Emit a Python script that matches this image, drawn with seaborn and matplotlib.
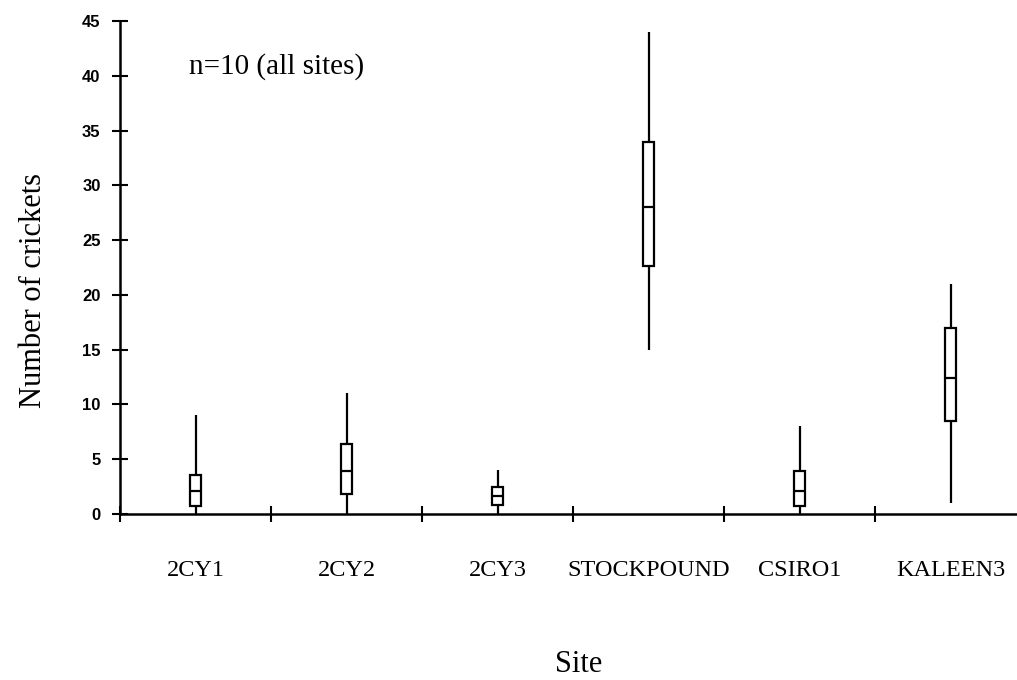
import numpy as np
import pandas as pd
import seaborn as sns
import matplotlib
matplotlib.use("Agg")
import matplotlib.pyplot as plt
from matplotlib.ticker import FixedLocator

# Five-number summaries of cricket counts per site (n=10 at every site)
sites = ["2CY1", "2CY2", "2CY3", "STOCKPOUND", "CSIRO1", "KALEEN3"]
minimum = [0, 0, 0, 15, 0, 1]
lower_quartile = [0.7, 1.8, 0.8, 22.6, 0.7, 8.5]
median = [2.1, 3.9, 1.6, 28.0, 2.1, 12.4]
upper_quartile = [3.6, 6.4, 2.5, 34.0, 3.9, 17.0]
maximum = [9, 11, 4, 44, 8, 21]
y_ticks = [0, 5, 10, 15, 20, 25, 30, 35, 40, 45]

# Long-form table: with whis=(0, 100) and five values per site the
# boxplot reproduces min / Q1 / median / Q3 / max exactly.
rows = []
for i, site in enumerate(sites):
    for v in (minimum[i], lower_quartile[i], median[i], upper_quartile[i], maximum[i]):
        rows.append((site, v))
df = pd.DataFrame(rows, columns=["Site", "Number of crickets"])

sns.set_theme(style="ticks")
plt.rcParams["font.family"] = ["Liberation Serif", "DejaVu Serif"]
plt.rcParams["text.color"] = "black"
plt.rcParams["axes.labelcolor"] = "black"
plt.rcParams["xtick.color"] = "black"
plt.rcParams["ytick.color"] = "black"

W, H = 1017, 680
fig = plt.figure(figsize=(W / 100, H / 100), dpi=100)
ax = fig.add_axes([120 / W, 166 / H, 906 / W, 493 / H])

sns.boxplot(
    data=df, x="Site", y="Number of crickets", order=sites,
    whis=(0, 100), width=0.075, color="white", linecolor="black",
    linewidth=1.6, showcaps=False, fliersize=0, ax=ax,
    medianprops=dict(color="black", linewidth=1.6),
    whiskerprops=dict(color="black", linewidth=1.6),
)

ax.set_xlim(-0.5, 5.5)
ax.set_ylim(0, 45)
ax.set_yticks(y_ticks)
ax.set_yticklabels([str(t) for t in y_ticks], fontfamily="Liberation Sans",
                   fontweight="bold", fontsize=12)

for side in ("top", "right"):
    ax.spines[side].set_visible(False)
for side in ("left", "bottom"):
    ax.spines[side].set_linewidth(1.8)
    ax.spines[side].set_color("black")

# Category boundaries marked by crossing ticks on the x axis
ax.xaxis.set_minor_locator(FixedLocator([-0.5, 0.5, 1.5, 2.5, 3.5, 4.5]))
ax.tick_params(axis="x", which="minor", direction="inout", length=12, width=1.5, color="black")
ax.tick_params(axis="x", which="major", length=0, pad=33, labelsize=17.5)
ax.tick_params(axis="y", which="major", direction="inout", length=12, width=1.5,
               color="black", pad=8)

ax.set_xlabel("Site", fontsize=22, va="center")
ax.xaxis.set_label_coords((579 - 120) / 906, (514 - 664) / 493)
ax.set_ylabel("Number of crickets", fontsize=22, va="center")
ax.yaxis.set_label_coords((34 - 120) / 906, (514 - 290) / 493)

ax.text(-0.045, 40.8, "n=10 (all sites)", fontsize=21, va="center", ha="left")

fig.savefig("out.png", dpi=100, facecolor="white")
